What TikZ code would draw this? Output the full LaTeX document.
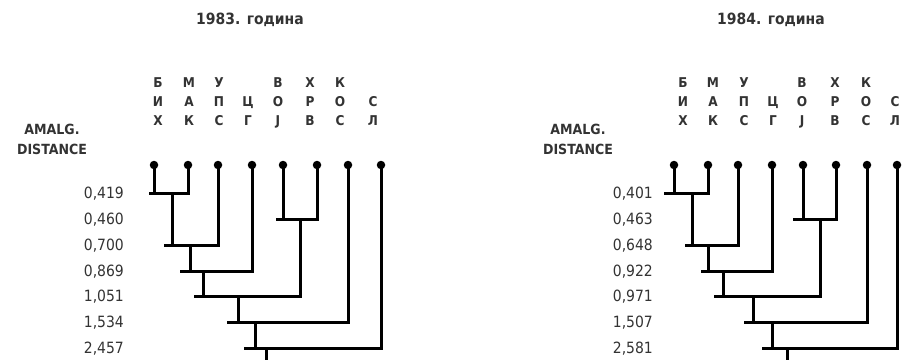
\documentclass[tikz,border=0pt]{standalone}
\usepackage{fontspec}
\setmainfont{DejaVu Sans Condensed}
\usetikzlibrary{positioning}

\tikzset{
  leaf/.style={circle, fill=black, inner sep=0pt, minimum size=8.5pt},
  branch/.style={line width=3pt, line cap=rect},
  abbr/.style={anchor=base, inner sep=0pt, text=black!80, font=\fontsize{13.5}{13.5}\selectfont\bfseries},
  dist/.style={anchor=base east, inner sep=0pt, text=black!80, font=\fontsize{15.5}{15.5}\selectfont},
  heading/.style={anchor=base, inner sep=0pt, text=black!80, font=\fontsize{15.5}{15.5}\selectfont\bfseries},
  axislabel/.style={anchor=base, inner sep=0pt, text=black!80, font=\fontsize{14}{14}\selectfont\bfseries}
}

\begin{document}
\begin{tikzpicture}[x=1pt, y=-1pt]
\useasboundingbox (0,0) rectangle (902,362);

% ---- 1983 ----
\node[heading] (atitle) at (250,24) {1983. година};
\node[axislabel] (aaxis1) at (52,134) {AMALG.};
\node[axislabel] (aaxis2) at (52,154) {DISTANCE};
\foreach \x/\p/\q/\r [count=\i] in {158/Б/И/Х, 189/М/А/К, 219/У/П/С, 248//Ц/Г, 278/В/О/Ј, 310/Х/Р/В, 340/К/О/С, 373//С/Л} {
  \node[abbr] (at\i) at (\x,87) {\p};
  \node[abbr] (am\i) at (\x,106) {\q};
  \node[abbr] (ab\i) at (\x,125) {\r};
}
\foreach \y/\d [count=\i] in {198.5/{0,419}, 224.5/{0,460}, 250.5/{0,700}, 276.5/{0,869}, 301.5/{1,051}, 327.5/{1,534}, 353.5/{2,457}}
  \node[dist] (ad\i) at (124,\y) {\d};
\foreach \x [count=\i] in {154,188,218,252,283,317,348,381}
  \node[leaf] (a\i) at (\x,165) {};

\coordinate (aM1) at (172,193); \coordinate (aE1) at (150,193);
\coordinate (aM2) at (300,219); \coordinate (aE2) at (277,219);
\coordinate (aM3) at (190,245); \coordinate (aE3) at (165,245);
\coordinate (aM4) at (203,271); \coordinate (aE4) at (181,271);
\coordinate (aM5) at (238,296); \coordinate (aE5) at (195,296);
\coordinate (aM6) at (255,322); \coordinate (aE6) at (228,322);
\coordinate (aM7) at (266,348); \coordinate (aE7) at (245,348);
\coordinate (aroot) at (266,358);

\draw[branch] (a1) -- (a1 |- aM1) (aE1) -- (a2 |- aM1) -- (a2);
\draw[branch] (a5) -- (a5 |- aM2) (aE2) -- (a6 |- aM2) -- (a6);
\draw[branch] (aM1) -- (aM1 |- aM3) (aE3) -- (a3 |- aM3) -- (a3);
\draw[branch] (aM3) -- (aM3 |- aM4) (aE4) -- (a4 |- aM4) -- (a4);
\draw[branch] (aM4) -- (aM4 |- aM5) (aE5) -- (aM2 |- aM5) -- (aM2);
\draw[branch] (aM5) -- (aM5 |- aM6) (aE6) -- (a7 |- aM6) -- (a7);
\draw[branch] (aM6) -- (aM6 |- aM7) (aE7) -- (a8 |- aM7) -- (a8);
\draw[branch] (aM7) -- (aroot);

% ---- 1984 ----
\node[heading] (btitle) at (771,24) {1984. година};
\node[axislabel] (baxis1) at (578,134) {AMALG.};
\node[axislabel] (baxis2) at (578,154) {DISTANCE};
\foreach \x/\p/\q/\r [count=\i] in {683/Б/И/Х, 713/М/А/К, 744/У/П/С, 773//Ц/Г, 802/В/О/Ј, 835/Х/Р/В, 866/К/О/С, 895//С/Л} {
  \node[abbr] (bt\i) at (\x,87) {\p};
  \node[abbr] (bm\i) at (\x,106) {\q};
  \node[abbr] (bb\i) at (\x,125) {\r};
}
\foreach \y/\d [count=\i] in {198.5/{0,401}, 224.5/{0,463}, 250.5/{0,648}, 276.5/{0,922}, 301.5/{0,971}, 327.5/{1,507}, 353.5/{2,581}}
  \node[dist] (bd\i) at (653,\y) {\d};
\foreach \x [count=\i] in {674,708,738,772,803,836,867,897}
  \node[leaf] (b\i) at (\x,165) {};

\coordinate (bM1) at (692,193); \coordinate (bE1) at (665,193);
\coordinate (bM2) at (820,219); \coordinate (bE2) at (794,219);
\coordinate (bM3) at (708,245); \coordinate (bE3) at (686,245);
\coordinate (bM4) at (723,271); \coordinate (bE4) at (702,271);
\coordinate (bM5) at (753,296); \coordinate (bE5) at (715,296);
\coordinate (bM6) at (772,322); \coordinate (bE6) at (745,322);
\coordinate (bM7) at (787,348); \coordinate (bE7) at (763,348);
\coordinate (broot) at (787,358);

\draw[branch] (b1) -- (b1 |- bM1) (bE1) -- (b2 |- bM1) -- (b2);
\draw[branch] (b5) -- (b5 |- bM2) (bE2) -- (b6 |- bM2) -- (b6);
\draw[branch] (bM1) -- (bM1 |- bM3) (bE3) -- (b3 |- bM3) -- (b3);
\draw[branch] (bM3) -- (bM3 |- bM4) (bE4) -- (b4 |- bM4) -- (b4);
\draw[branch] (bM4) -- (bM4 |- bM5) (bE5) -- (bM2 |- bM5) -- (bM2);
\draw[branch] (bM5) -- (bM5 |- bM6) (bE6) -- (b7 |- bM6) -- (b7);
\draw[branch] (bM6) -- (bM6 |- bM7) (bE7) -- (b8 |- bM7) -- (b8);
\draw[branch] (bM7) -- (broot);
\end{tikzpicture}
\end{document}
